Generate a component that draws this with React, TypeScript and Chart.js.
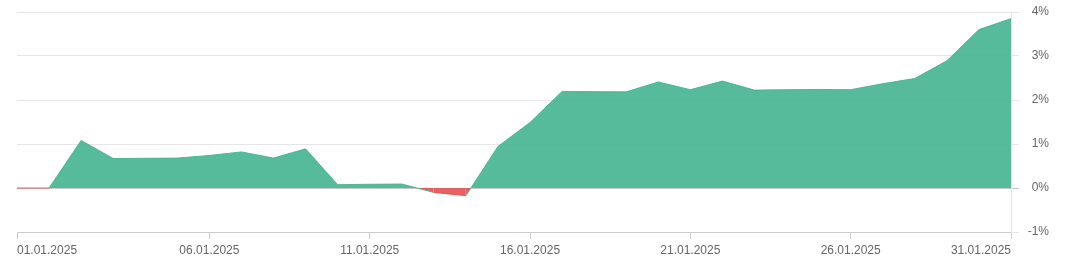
import React, { useEffect, useRef } from "react";
import { Chart, registerables } from "chart.js";

Chart.register(...registerables);

const dates: string[] = [
  "01.01.2025", "01.01.2025", "02.01.2025", "03.01.2025", "04.01.2025", "05.01.2025",
  "06.01.2025", "07.01.2025", "08.01.2025", "09.01.2025", "10.01.2025", "11.01.2025",
  "12.01.2025", "13.01.2025", "14.01.2025", "15.01.2025", "16.01.2025", "17.01.2025",
  "18.01.2025", "19.01.2025", "20.01.2025", "21.01.2025", "22.01.2025", "23.01.2025",
  "24.01.2025", "25.01.2025", "26.01.2025", "27.01.2025", "28.01.2025", "29.01.2025",
  "30.01.2025", "31.01.2025",
];

const returns: number[] = [
  0, 0, 1.08, 0.67, 0.675, 0.68, 0.74, 0.82, 0.68, 0.89, 0.075, 0.085, 0.09, -0.1,
  -0.175, 0.945, 1.49, 2.195, 2.19, 2.185, 2.41, 2.235, 2.43, 2.225, 2.235, 2.24,
  2.235, 2.37, 2.49, 2.89, 3.6, 3.85,
];

const xTickLabels: string[] = [
  "01.01.2025", "06.01.2025", "11.01.2025", "16.01.2025", "21.01.2025", "26.01.2025", "31.01.2025",
];

const yTicks: number[] = [-1, 0, 1, 2, 3, 4];

const GREEN = "rgba(67,180,143,0.9)";
const RED = "rgba(226,81,81,0.9)";

export default function App() {
  const ref = useRef<HTMLCanvasElement | null>(null);

  useEffect(() => {
    document.body.style.margin = "0";
    if (!ref.current) return;
    const chart = new Chart(ref.current, {
      type: "line",
      data: {
        labels: dates,
        datasets: [
          {
            data: returns,
            fill: { target: "origin", above: GREEN, below: RED },
            borderWidth: 1,
            borderColor: GREEN,
            segment: {
              borderColor: (ctx: any) =>
                ctx.p0.parsed.y <= 0 && ctx.p1.parsed.y <= 0 ? RED : GREEN,
            },
            pointRadius: 0,
            pointHoverRadius: 0,
            tension: 0,
          },
        ],
      },
      options: {
        animation: false,
        responsive: false,
        maintainAspectRatio: false,
        layout: { padding: { left: 17, top: 12, right: 21, bottom: 0 } },
        plugins: { legend: { display: false }, tooltip: { enabled: false } },
        scales: {
          x: {
            type: "category",
            offset: false,
            grid: {
              display: true,
              drawOnChartArea: false,
              drawTicks: true,
              tickLength: 7,
              color: "#cccccc",
            },
            border: { display: true, color: "#cccccc" },
            ticks: {
              autoSkip: false,
              maxRotation: 0,
              minRotation: 0,
              align: "inner",
              padding: 4,
              color: "#666666",
              font: { family: "'Liberation Sans', Arial, sans-serif", size: 12 },
              callback: function (value: any, index: number) {
                const lbl = dates[index];
                if (xTickLabels.includes(lbl) && dates.indexOf(lbl) === index) return lbl;
                return null;
              },
            },
            afterFit: (scale: any) => {
              scale.height = 31;
            },
          },
          y: {
            position: "right",
            min: yTicks[0],
            max: yTicks[yTicks.length - 1],
            afterBuildTicks: (scale: any) => {
              scale.ticks = yTicks.map((v) => ({ value: v }));
            },
            grid: {
              color: (ctx: any) => (ctx.tick && ctx.tick.value === 0 ? "#c8c8c8" : "#e6e6e6"),
              tickLength: 8,
              drawTicks: true,
            },
            border: { display: true, color: "#e6e6e6" },
            ticks: {
              crossAlign: "far",
              padding: 3,
              color: "#666666",
              font: { family: "'Liberation Sans', Arial, sans-serif", size: 12 },
              callback: (v: any) => `${v}%`,
            },
            afterFit: (scale: any) => {
              scale.width = 38;
            },
          },
        },
      },
    } as any);
    return () => chart.destroy();
  }, []);

  return (
    <div style={{ width: 1070, height: 263 }}>
      <canvas ref={ref} width={1070} height={263} style={{ display: "block" }} />
    </div>
  );
}
